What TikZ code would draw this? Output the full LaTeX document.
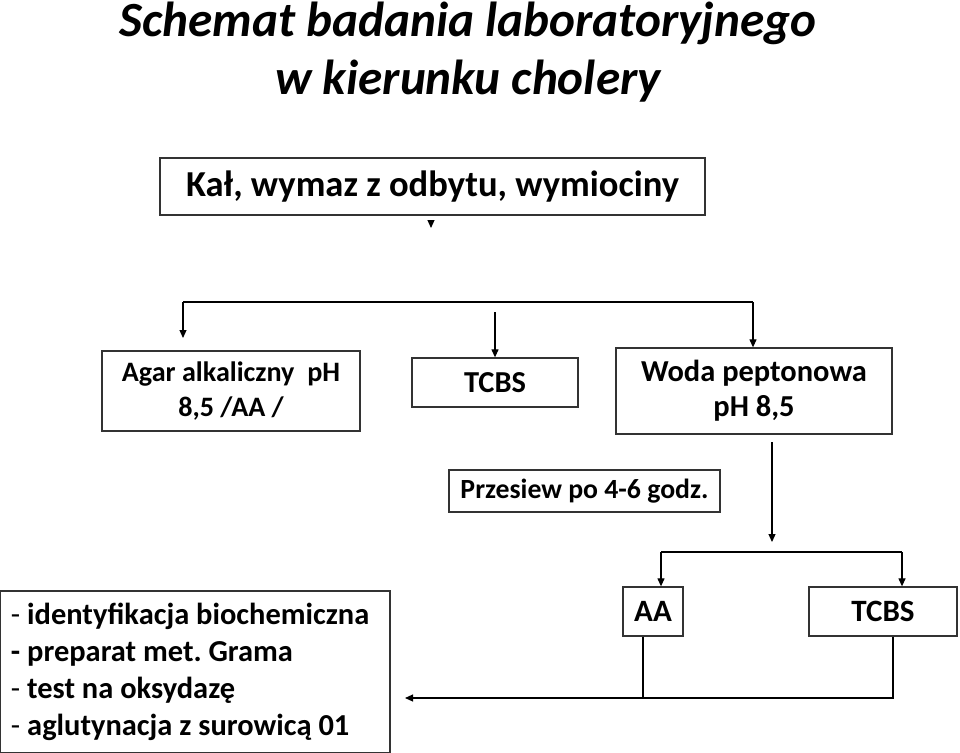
\documentclass[tikz,border=0pt]{standalone}
\usepackage{fontspec}
\setmainfont{Carlito}
\frenchspacing
\usetikzlibrary{arrows.meta}
\tikzset{
  box/.style={draw=black!80, line width=1.1pt, inner sep=0pt, font=\bfseries, align=center},
  arr/.style={-{Triangle[length=2.4mm,width=2.1mm]}, line width=1pt},
  link/.style={line width=1pt},
  titletext/.style={font=\fontsize{42}{46}\selectfont\bfseries\itshape, anchor=base},
}
\begin{document}
\begin{tikzpicture}[x=0.3mm,y=-0.3mm]
\useasboundingbox (0,0) rectangle (960,753);
% title
\node[titletext] (title1) at (468,37) {Schemat badania laboratoryjnego};
\node[titletext] (title2) at (468,95) {w kierunku cholery};

% sample
\node[box, minimum width=163.5mm, minimum height=17.1mm, font=\fontsize{31.2}{34}\selectfont\bfseries] (sample) at (432.5,186.5) {Kał, wymaz z odbytu, wymiociny};
\coordinate (sampletip) at (431,228);
\draw[arr] (431,221) -- (sampletip);

% first media
\node[box, minimum width=77.4mm, minimum height=24mm, font=\fontsize{24}{29.5}\selectfont\bfseries] (agar) at (231,391) {Agar alkaliczny \ pH\\8,5 /AA /};
\node[box, minimum width=49.8mm, minimum height=14.7mm, font=\fontsize{26}{30}\selectfont\bfseries] (tcbs) at (495,382.5) {TCBS};
\node[box, minimum width=82.8mm, minimum height=25.8mm, font=\fontsize{26}{30}\selectfont\bfseries] (woda) at (754,391) {Woda peptonowa\\pH 8,5};

\coordinate (barL) at (183,302);
\coordinate (barR) at (753,302);
\coordinate (agarin) at (183,338);
\coordinate (tcbsfrom) at (495,312);
\draw[arr] (barL) -- (agarin);
\draw[link] (barL) -- (barR);
\draw[arr] (barR) -- (woda.north -| barR);
\draw[arr] (tcbsfrom) -- (tcbs.north);

% subculture
\node[box, minimum width=81.3mm, minimum height=12.6mm, font=\fontsize{23.7}{27}\selectfont\bfseries] (przesiew) at (584.5,491) {Przesiew po 4-6 godz.};
\coordinate (wodaout) at (772,442);
\coordinate (wodatip) at (772,542);
\draw[arr] (wodaout) -- (wodatip);

% second media
\node[box, minimum width=18mm, minimum height=14.7mm, font=\fontsize{26.5}{30}\selectfont\bfseries] (aa) at (653,611.5) {AA};
\node[box, minimum width=44.4mm, minimum height=14.7mm, font=\fontsize{26.5}{30}\selectfont\bfseries] (tcbsb) at (883,611.5) {TCBS};

\coordinate (bar2L) at (661,552);
\coordinate (bar2R) at (902,552);
\draw[link] (bar2L) -- (bar2R);
\draw[arr] (bar2L) -- (aa.north -| bar2L);
\draw[arr] (bar2R) -- (tcbsb.north -| bar2R);

% identification
\node[box, minimum width=117mm, minimum height=48.6mm, text width=110.4mm, align=flush left, font=\fontsize{26}{31.5}\selectfont\bfseries] (ident) at (195,672)
  {\textmd{-} identyfikacja biochemiczna\\- preparat met. Grama\\\textmd{-} test na oksydazę\\\textmd{-} aglutynacja z surowicą 01};

\coordinate (bar3) at (893,698);
\coordinate (identin) at (405,698);
\draw[link] ([xshift=-3mm]aa.south) -- ([xshift=-3mm]aa.south |- bar3);
\draw[arr] ([xshift=3mm]tcbsb.south) |- (identin);
\end{tikzpicture}
\end{document}
